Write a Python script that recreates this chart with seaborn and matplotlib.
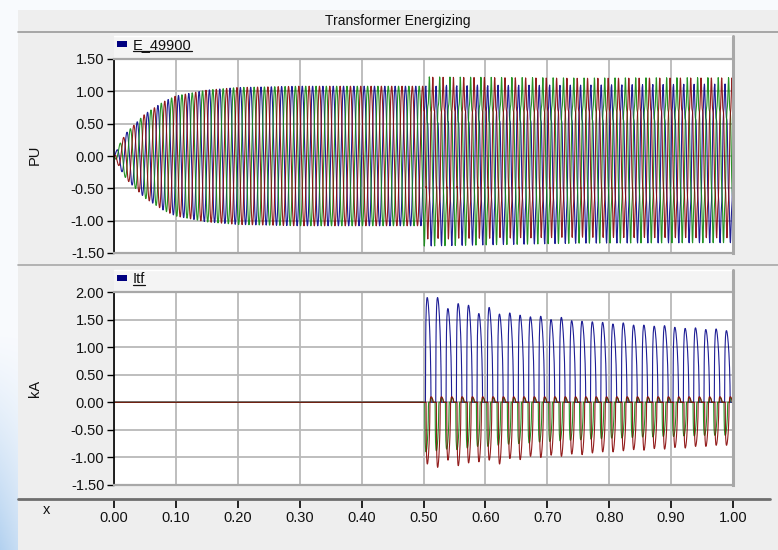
import numpy as np
import pandas as pd
import matplotlib
matplotlib.use("Agg")
import matplotlib.pyplot as plt
import seaborn as sns
from matplotlib.patches import Rectangle
from matplotlib.lines import Line2D

sns.set_theme(style="white")
plt.rcParams["font.family"] = ["Liberation Sans", "DejaVu Sans"]

# ---------------- data ----------------
TITLE = "Transformer Energizing"
V_NAME = "E_49900"
I_NAME = "Itf"
V_UNIT = "PU"
I_UNIT = "kA"
X_LABEL = "x"
x_ticks = [0.0, 0.1, 0.2, 0.3, 0.4, 0.5, 0.6, 0.7, 0.8, 0.9, 1.0]
v_yticks = [-1.5, -1.0, -0.5, 0.0, 0.5, 1.0, 1.5]
i_yticks = [-1.5, -1.0, -0.5, 0.0, 0.5, 1.0, 1.5, 2.0]
phases = ["A", "B", "C"]
phase_colors = {"A": "#0a0a8c", "B": "#138a13", "C": "#8a0a0a"}
phase_shift_deg = [0, -120, 120]
freq_hz = 60
switch_time = 0.5

# voltage envelope while energizing (0 .. 0.5 s)
ramp_t = [0.0, 0.01, 0.02, 0.05, 0.08, 0.10, 0.15, 0.20, 0.30, 0.50]
ramp_amp = [0.0, 0.20, 0.36, 0.65, 0.84, 0.93, 1.02, 1.06, 1.08, 1.08]
# voltage content after switching (0.5 .. 1.0 s)
post_t = [0.5, 0.75, 1.0]
post_fund = [1.17, 1.15, 1.15]
post_h2 = [0.12, 0.10, 0.09]
post_h5 = [0.14, 0.13, 0.13]
post_drop = [0.10, 0.10, 0.10]   # voltage notch per kA of inrush current

# inrush current peak per cycle (30 cycles, 0.5 .. 1.0 s)
i_peak_A = [1.90, 1.90, 1.70, 1.79, 1.76, 1.61, 1.72, 1.60, 1.62, 1.58,
            1.55, 1.56, 1.50, 1.54, 1.48, 1.47, 1.46, 1.45, 1.42, 1.44,
            1.40, 1.40, 1.38, 1.39, 1.36, 1.34, 1.35, 1.32, 1.33, 1.30]
i_peak_B = [-0.90, -0.88, -0.85, -0.86, -0.83, -0.80, -0.80, -0.78, -0.76, -0.75,
            -0.74, -0.72, -0.71, -0.70, -0.69, -0.68, -0.67, -0.66, -0.65, -0.65,
            -0.64, -0.63, -0.63, -0.62, -0.62, -0.61, -0.61, -0.60, -0.60, -0.60]
i_peak_C = [-1.12, -1.18, -1.05, -1.15, -1.10, -1.08, -1.05, -1.12, -1.02, -1.04,
            -0.98, -1.00, -0.96, -0.98, -0.94, -0.95, -0.92, -0.90, -0.90, -0.88,
            -0.86, -0.87, -0.84, -0.85, -0.82, -0.83, -0.80, -0.80, -0.78, -0.78]

# ---------------- waveform construction ----------------
t = np.linspace(0.0, 1.0, 60 * 48 + 1)
theta = 2 * np.pi * freq_hz * t


def shape(u, start, width, p=0.6, q=0.45):
    s = (u - start) / width
    inside = (s >= 0) & (s <= 1)
    s = np.clip(s, 0, 1)
    return np.where(inside, np.sin(np.pi * s ** p) ** q, 0.0)


tau = (t - switch_time) * freq_hz
n = np.clip(np.floor(tau).astype(int), 0, len(i_peak_A) - 1)
u = tau - np.floor(tau)
on = t >= switch_time
iA = np.where(on, np.array(i_peak_A)[n] * shape(u, 0.20, 0.52), 0.0)
iB = np.where(on, np.array(i_peak_B)[n] * shape(u, 0.14, 0.34) + 0.08 * shape(u, 0.70, 0.22), 0.0)
iC = np.where(on, np.array(i_peak_C)[n] * shape(u, 0.26, 0.36) + 0.10 * shape(u, 0.66, 0.26), 0.0)
currents = {"A": iA, "B": iB, "C": iC}
df_i = pd.concat([pd.DataFrame({"t": t, "val": currents[p], "phase": p}) for p in phases],
                 ignore_index=True)

env_pre = np.interp(t, ramp_t, ramp_amp)
fund = np.interp(t, post_t, post_fund)
h2 = np.interp(t, post_t, post_h2)
h5 = np.interp(t, post_t, post_h5)
drop = np.interp(t, post_t, post_drop)
rows_v = []
for ph, sh in zip(phases, phase_shift_deg):
    x = theta + np.deg2rad(sh)
    pre = env_pre * np.sin(x)
    post = (fund * np.sin(x) + h2 * np.sin(2 * x + 0.9) + h5 * np.sin(5 * x + 0.4)
            - drop * currents[ph])
    v = np.where(t < switch_time, pre, post)
    rows_v.append(pd.DataFrame({"t": t, "val": v, "phase": ph}))
df_v = pd.concat(rows_v, ignore_index=True)

# ---------------- figure layout (pixel based) ----------------
W, H = 778, 550
fig = plt.figure(figsize=(W / 100, H / 100), dpi=100)


def fx(px):
    return px / W


def fy(py):
    return 1 - py / H


def rect(x0, y0, x1, y1, **kw):
    fig.add_artist(Rectangle((fx(x0), fy(y1)), (x1 - x0) / W, (y1 - y0) / H,
                             transform=fig.transFigure, **kw))


def line(x0, y0, x1, y1, **kw):
    fig.add_artist(Line2D([fx(x0), fx(x1)], [fy(y0), fy(y1)],
                          transform=fig.transFigure, **kw))


# decorative background
bg = fig.add_axes([0, 0, 1, 1], zorder=-10)
yy, xx = np.mgrid[0:H, 0:W]
s = np.clip((yy - 330) / 220.0, 0, 1) ** 1.3 * np.clip(1 - xx / 60.0, 0.3, 1)
base = np.array([0.975, 0.982, 0.995])
blue = np.array([0.70, 0.82, 0.94])
img = base[None, None, :] * (1 - s[..., None]) + blue[None, None, :] * s[..., None]
bg.imshow(img, aspect="auto", extent=[0, 1, 0, 1])
bg.axis("off")

rect(18, 10, 778, 550, fc="#eeeeee", ec="none", zorder=-5)
# title bar
fig.text(fx(398), fy(21), TITLE, ha="center", va="center", fontsize=10, color="#111111")
line(18, 32, 778, 32, color="#a0a0a0", lw=1.3)
# panel separator
line(18, 265, 778, 265, color="#a8a8a8", lw=1.2)
# x-axis separator
line(18, 498.5, 770, 498.5, color="#6e6e6e", lw=2)


def make_panel(top, bottom, header_top, yticks, ylim, df, name, unit, ylab_y):
    rect(114, header_top, 733, top, fc="#f4f4f4", ec="none", zorder=-4)
    line(114, header_top, 733, header_top, color="white", lw=1)
    ax = fig.add_axes([fx(114), fy(bottom), 619 / W, (bottom - top) / H])
    ax.set_facecolor("white")
    sns.lineplot(data=df, x="t", y="val", hue="phase", hue_order=phases,
                 palette=phase_colors, estimator=None, sort=False, lw=0.8,
                 alpha=0.92, legend=False, ax=ax)
    ax.set_xlim(0, 1)
    ax.set_ylim(*ylim)
    ax.set_xticks(x_ticks)
    ax.set_yticks(yticks)
    ax.set_yticklabels([f"{v:.2f}" for v in yticks])
    ax.grid(True, color="#b9b9b9", lw=1.3)
    ax.set_axisbelow(True)
    ax.tick_params(axis="x", bottom=False, labelbottom=False)
    ax.tick_params(axis="y", left=True, direction="out", length=5, width=1,
                   color="black", labelsize=10.5, pad=2, labelcolor="#111111")
    ax.set_xlabel("")
    ax.set_ylabel("")
    for sp in ["top", "bottom"]:
        ax.spines[sp].set_color("#a8a8a8")
        ax.spines[sp].set_linewidth(1.6)
    ax.spines["right"].set_color("#a8a8a8")
    ax.spines["right"].set_linewidth(2.2)
    ax.spines["left"].set_color("black")
    ax.spines["left"].set_linewidth(1.2)
    line(733, header_top, 733, top, color="#a8a8a8", lw=2.2)
    # legend entry
    rect(117, header_top + 5, 127, header_top + 11, fc="#000080", ec="none")
    txt = fig.text(fx(133), fy(header_top + 9), name, ha="left", va="center",
                   fontsize=10.5, color="#111111")
    fig.text(fx(35), fy(ylab_y), unit, rotation=90, ha="center", va="center",
             fontsize=10.5, color="#111111")
    return ax, txt


ax_v, txt_v = make_panel(59, 253, 36, v_yticks, (-1.5, 1.5), df_v, V_NAME, V_UNIT, 155)
ax_i, txt_i = make_panel(292, 485, 270, i_yticks, (-1.5, 2.0), df_i, I_NAME, I_UNIT, 388)

# shared x axis
ax_x = fig.add_axes([fx(114), fy(499.5), 619 / W, 0.0005])
ax_x.set_xlim(0, 1)
ax_x.set_xticks(x_ticks)
ax_x.set_xticklabels([f"{v:.2f}" for v in x_ticks])
ax_x.set_yticks([])
ax_x.patch.set_alpha(0)
for sp in ax_x.spines.values():
    sp.set_visible(False)
ax_x.tick_params(axis="x", bottom=True, direction="out", length=6, width=1.2,
                 color="black", labelsize=10.5, pad=2, labelcolor="#111111")
fig.text(fx(47), fy(510), X_LABEL, ha="center", va="center", fontsize=10.5, color="#111111")

# underline the legend names
fig.canvas.draw()
r = fig.canvas.get_renderer()
for tx in (txt_v, txt_i):
    bb = tx.get_window_extent(renderer=r)
    yline = bb.y0 + 1
    fig.add_artist(Line2D([bb.x0 / W, bb.x1 / W], [yline / H, yline / H],
                          transform=fig.transFigure, color="#111111", lw=0.9))

fig.savefig("out.png", dpi=100)
